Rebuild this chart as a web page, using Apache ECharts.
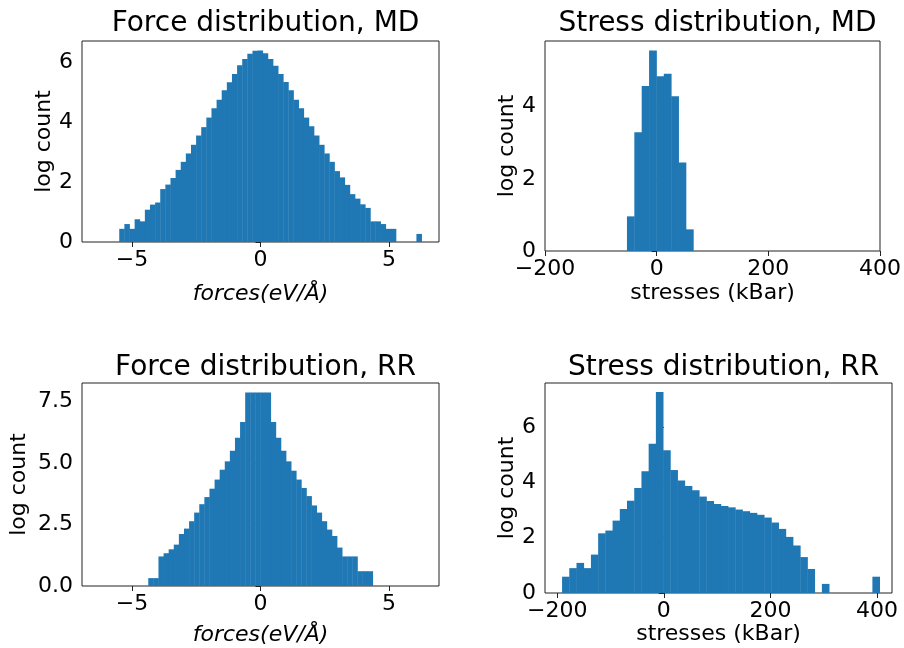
<!DOCTYPE html>
<html>
<head>
<meta charset="utf-8">
<title>log count histograms</title>
<script src="https://cdn.jsdelivr.net/npm/echarts@6.0.0/dist/echarts.min.js"></script>
<style>
  html, body { margin: 0; height: 100%; background: #fff; }
  #main { width: 904px; height: 648px; }
</style>
</head>
<body>
<div id="main"></div>
<script>
// histogram bins: first edge, bin width, log count per bin
var forceMdStart = -5.5, forceMdWidth = 0.1995;
var forceMdLog = [0.44, 0.60, 0.44, 0.76, 0.69, 1.08, 1.25, 1.32, 1.77, 1.92,
  2.14, 2.41, 2.68, 2.96, 3.25, 3.56, 3.84, 4.16, 4.47, 4.76,
  5.07, 5.34, 5.62, 5.91, 6.12, 6.29, 6.39, 6.40,
  6.31, 6.12, 5.89, 5.62, 5.35, 5.07, 4.76, 4.47, 4.16, 3.87,
  3.56, 3.25, 2.96, 2.68, 2.37, 2.16, 1.91, 1.60, 1.45, 1.26,
  1.14, 0.69, 0.69, 0.60, 0.44, 0.44, 0, 0, 0, 0, 0.27];

var stressMdStart = -53.2, stressMdWidth = 13.2;
var stressMdLog = [0.96, 3.29, 4.57, 5.56, 4.84, 4.91, 4.29, 2.45, 0.60];

var forceRrStart = -4.37, forceRrWidth = 0.1986;
var forceRrLog = [0.32, 0.32, 1.20, 1.33, 1.49, 1.68, 2.11, 2.33, 2.63, 2.98,
  3.32, 3.61, 3.95, 4.32, 4.72, 5.06, 5.49, 6.02, 6.66,
  7.85, 7.85, 7.85, 7.85, 7.85,
  6.66, 6.02, 5.49, 5.06, 4.68, 4.32, 3.98, 3.65, 3.27, 2.98,
  2.63, 2.29, 2.03, 1.56, 1.20, 1.20, 1.20, 0.60, 0.60, 0.60];

var stressRrStart = -191, stressRrWidth = 13.54;
var stressRrLog = [0.59, 0.90, 1.09, 0.90, 1.39, 2.16, 2.26, 2.62, 3.04, 3.34,
  3.80, 4.41, 5.40, 7.27, 5.17, 4.45, 4.07, 3.87, 3.72, 3.49,
  3.33, 3.22, 3.15, 3.10, 3.02, 2.96, 2.90, 2.83, 2.73, 2.55,
  2.32, 2.03, 1.72, 1.30, 0.87, 0, 0.33, 0, 0, 0,
  0, 0, 0, 0.59];

var forceTicks = [-5, 0, 5];
var stressTicks = [-200, 0, 200, 400];
var yTicksMd = [0, 2, 4, 6];
var yTicksStressMd = [0, 2, 4];
var yTicksForceRr = [0, 2.5, 5, 7.5];
var yTicksStressRr = [0, 2, 4, 6];

function toBins(start, width, heights) {
  var out = [];
  for (var i = 0; i < heights.length; i++) {
    if (heights[i] > 0) out.push([start + i * width, start + (i + 1) * width, heights[i]]);
  }
  return out;
}

function renderBar(params, api) {
  var p0 = api.coord([api.value(0), 0]);
  var p1 = api.coord([api.value(1), api.value(2)]);
  return {
    type: 'rect',
    shape: { x: p0[0], y: p1[1], width: p1[0] - p0[0] + 0.4, height: p0[1] - p1[1] },
    style: { fill: '#1f77b4' }
  };
}

var font = 'DejaVu Sans';
function minus(s) { return String(s).replace('-', '\u2212'); }

// pixel boxes of the four panels
var grids = [
  { left: 82, top: 41, width: 357, height: 201 },
  { left: 545, top: 41, width: 335, height: 210 },
  { left: 82, top: 383, width: 357, height: 203 },
  { left: 545, top: 383, width: 347, height: 210 }
];
var panels = [
  { title: 'Force distribution, MD', data: toBins(forceMdStart, forceMdWidth, forceMdLog),
    xmin: -6.95, xmax: 6.95, xt: forceTicks, ymax: 6.72, yt: yTicksMd, yfix: 0,
    xname: 'forces(eV/Å)', italic: true, xgap: 41, ygap: 26, ttop: 5 },
  { title: 'Stress distribution, MD', data: toBins(stressMdStart, stressMdWidth, stressMdLog),
    xmin: -200, xmax: 400, xt: stressTicks, ymax: 5.82, yt: yTicksStressMd, yfix: 0,
    xname: 'stresses (kBar)', italic: false, xgap: 31, ygap: 24, ttop: 5 },
  { title: 'Force distribution, RR', data: toBins(forceRrStart, forceRrWidth, forceRrLog),
    xmin: -6.95, xmax: 6.95, xt: forceTicks, ymax: 8.24, yt: yTicksForceRr, yfix: 1,
    xname: 'forces(eV/Å)', italic: true, xgap: 38, ygap: 52, ttop: 349 },
  { title: 'Stress distribution, RR', data: toBins(stressRrStart, stressRrWidth, stressRrLog),
    xmin: -223, xmax: 428, xt: stressTicks, ymax: 7.6, yt: yTicksStressRr, yfix: 0,
    xname: 'stresses (kBar)', italic: false, xgap: 30, ygap: 24, ttop: 349 }
];

var option = { animation: false, title: [], grid: [], xAxis: [], yAxis: [], series: [] };

panels.forEach(function (p, i) {
  var g = grids[i];
  option.grid.push({ left: g.left, top: g.top, width: g.width, height: g.height,
    show: true, borderColor: '#222', borderWidth: 1, backgroundColor: '#fff' });
  option.title.push({ text: p.title, left: g.left + g.width / 2, top: p.ttop, textAlign: 'center',
    textStyle: { fontFamily: font, fontSize: 28, fontWeight: 'normal', color: '#000' } });
  option.xAxis.push({
    type: 'value', gridIndex: i, min: p.xmin, max: p.xmax,
    name: p.xname, nameLocation: 'middle', nameGap: p.xgap,
    nameTextStyle: { fontFamily: font, fontSize: 22, color: '#000', fontStyle: p.italic ? 'italic' : 'normal' },
    axisLine: { show: false },
    splitLine: { show: false },
    axisTick: { show: true, inside: false, length: 5, lineStyle: { color: '#222' }, customValues: p.xt },
    axisLabel: { fontFamily: font, fontSize: 22, color: '#000', margin: 7, customValues: p.xt,
      formatter: function (v) { return minus(v); } }
  });
  option.yAxis.push({
    type: 'value', gridIndex: i, min: 0, max: p.ymax,
    name: 'log count', nameLocation: 'middle', nameGap: p.ygap, nameRotate: 90,
    nameTextStyle: { fontFamily: font, fontSize: 22, color: '#000' },
    axisLine: { show: false },
    splitLine: { show: false },
    axisTick: { show: true, inside: false, length: 5, lineStyle: { color: '#222' }, customValues: p.yt },
    axisLabel: { fontFamily: font, fontSize: 22, color: '#000', margin: 9, customValues: p.yt,
      formatter: function (v) { return Number(v).toFixed(p.yfix); } }
  });
  option.series.push({
    type: 'custom', xAxisIndex: i, yAxisIndex: i,
    renderItem: renderBar, encode: { x: [0, 1], y: 2 }, data: p.data
  });
});

var myChart = echarts.init(document.getElementById('main'));
myChart.setOption(option);
</script>
</body>
</html>
